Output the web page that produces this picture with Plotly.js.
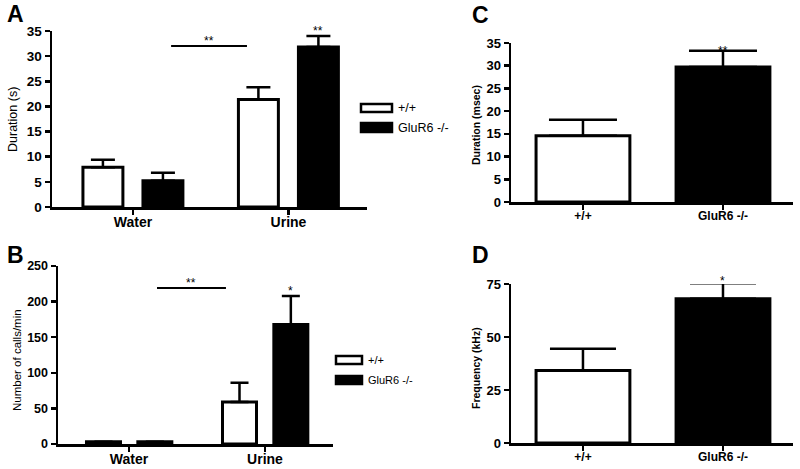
<!DOCTYPE html>
<html>
<head>
<meta charset="utf-8">
<script src="https://cdn.plot.ly/plotly-3.0.1.min.js"></script>
<style>
  html, body { margin: 0; padding: 0; background: #fff; }
  #chart { width: 800px; height: 469px; }
</style>
</head>
<body>
<div id="chart"></div>
<script>
// data
const groupNames = ['+/+', 'GluR6 -/-'];
const stimuli = ['Water', 'Urine'];

// A: duration (s)
const durWT = [7.9, 21.4];
const durWTerr = [1.5, 2.4];
const durKO = [5.2, 31.8];
const durKOerr = [1.6, 2.2];

// B: number of calls/min
const callsWT = [3, 59];
const callsWTerr = [0, 27];
const callsKO = [3, 168];
const callsKOerr = [0, 40];

// C: call duration (msec)
const callDur = [14.6, 29.7];
const callDurErr = [3.5, 3.6];

// D: frequency (kHz)
const freq = [34.2, 68];
const freqErr = [10.2, 7.4];

const FONT = 'Liberation Sans, Arial, sans-serif';
const W = 800, H = 469;
// convert pixel positions of the picture to paper coords
const px = x => x / W;
const py = y => 1 - y / H;

function barTrace(x, y, err, color, xa, ya, width, offset, capw) {
    return {
        type: 'bar', x: x, y: y,
        xaxis: xa, yaxis: ya,
        width: width, offset: offset,
        marker: { color: color, line: { color: 'black', width: 3 } },
        error_y: {
            type: 'data', symmetric: false, array: err,
            arrayminus: err.map(() => 0),
            color: 'black', thickness: 2.5, width: capw
        },
        hoverinfo: 'none'
    };
}

const traces = [
    barTrace(stimuli, durWT, durWTerr, 'white', 'x', 'y', 0.257, -0.322, 12),
    barTrace(stimuli, durKO, durKOerr, 'black', 'x', 'y', 0.257, 0.064, 12),
    barTrace(stimuli, callsWT, callsWTerr, 'white', 'x2', 'y2', 0.25, -0.3125, 9),
    barTrace(stimuli, callsKO, callsKOerr, 'black', 'x2', 'y2', 0.25, 0.065, 9),
    barTrace(groupNames, callDur, callDurErr, ['white', 'black'], 'x3', 'y3', 0.67, -0.335, 34),
    barTrace(groupNames, freq, freqErr, ['white', 'black'], 'x4', 'y4', 0.67, -0.335, 33)
];

function yAxis(domain, range, dtick, anchor, size) {
    return {
        domain: domain, range: range, dtick: dtick, anchor: anchor,
        showline: true, linewidth: 2.5, linecolor: 'black',
        ticks: 'outside', ticklen: 5, tickwidth: 2.5, tickcolor: 'black',
        showgrid: false, zeroline: false, fixedrange: true,
        tickfont: { family: FONT, size: size, color: 'black', weight: 700 }
    };
}
function xAxis(domain, range, anchor, size) {
    return {
        domain: domain, range: range, anchor: anchor, type: 'category',
        showline: true, linewidth: 2.5, linecolor: 'black',
        ticks: 'outside', ticklen: 5, tickwidth: 2.5, tickcolor: 'black',
        ticklabelstandoff: -4,
        showgrid: false, zeroline: false, fixedrange: true,
        tickfont: { family: FONT, size: size, color: 'black', weight: 700 }
    };
}

const annotations = [];
const shapes = [];
function label(text, x, y, size, bold, opts) {
    annotations.push(Object.assign({
        text: text, x: px(x), y: py(y), xref: 'paper', yref: 'paper',
        xanchor: 'center', yanchor: 'middle',
        showarrow: false, font: { family: FONT, size: size, color: 'black', weight: bold ? 700 : 400 }
    }, opts || {}));
}

// panel letters
label('A', 15, 14, 23, true);
label('B', 15, 255, 23, true);
label('C', 481, 15, 23, true);
label('D', 481, 255, 23, true);

// y axis titles
label('Duration (s)', 13, 120, 12.5, false, { textangle: -90 });
label('Number of calls/min', 17, 360, 11.5, false, { textangle: -90 });
label('Duration (msec)', 476, 125, 10.5, true, { textangle: -90 });
label('Frequency (kHz)', 476, 368, 10.5, true, { textangle: -90 });

// hand-drawn legends
function legend(x0, x1, rows, size) {
    rows.forEach((r, i) => {
        shapes.push({
            type: 'rect', xref: 'paper', yref: 'paper',
            x0: px(x0), x1: px(x1), y0: py(r[0]), y1: py(r[1]),
            fillcolor: i === 0 ? 'white' : 'black',
            line: { color: 'black', width: 2.5 }
        });
        label(groupNames[i], x1 + 4, (r[0] + r[1]) / 2, size, false, { xanchor: 'left' });
    });
}
legend(361, 392, [[104, 112], [123, 132]], 12.5);
legend(336, 362, [[356, 364], [376, 384]], 11);

// significance marks
function sig(xa, ya, x0, x1, y, stars, line) {
    if (line) {
        shapes.push({ type: 'line', xref: xa, yref: ya, x0: x0, x1: x1, y0: y, y1: y,
            line: { color: 'black', width: 2 } });
    }
    annotations.push({ text: stars, xref: xa, yref: ya, x: (x0 + x1) / 2, y: y,
        xanchor: 'center', yanchor: 'bottom', yshift: -4, showarrow: false,
        font: { family: FONT, size: 12, color: 'black' } });
}
sig('x', 'y', 0.245, 0.733, 32, '**', true);
sig('x', 'y', 1.193, 1.193, 34, '**', false);
sig('x2', 'y2', 0.206, 0.713, 219, '**', true);
sig('x2', 'y2', 1.19, 1.19, 208, '*', false);
sig('x3', 'y3', 1, 1, 32.2, '**', false);
sig('x4', 'y4', 1, 1, 74, '*', false);

const layout = {
    width: W, height: H,
    margin: { l: 0, r: 0, t: 0, b: 0 },
    paper_bgcolor: 'white', plot_bgcolor: 'white',
    showlegend: false, barmode: 'overlay',
    font: { family: FONT, color: 'black' },
    xaxis: xAxis([px(52), px(367)], [-0.521, 1.505], 'y', 14),
    yaxis: yAxis([py(207), py(31)], [0, 35], 5, 'x', 13.5),
    xaxis2: xAxis([px(58), px(333)], [-0.522, 1.5], 'y2', 14),
    yaxis2: yAxis([py(444), py(266)], [0, 250], 50, 'x2', 12.5),
    xaxis3: xAxis([px(511), px(793)], [-0.514, 1.5], 'y3', 12),
    yaxis3: yAxis([py(202), py(43)], [0, 35], 5, 'x3', 13),
    xaxis4: xAxis([px(511), px(793)], [-0.514, 1.5], 'y4', 12),
    yaxis4: yAxis([py(443), py(284)], [0, 75], 25, 'x4', 13),
    annotations: annotations,
    shapes: shapes
};

Plotly.newPlot('chart', traces, layout, { displayModeBar: false, staticPlot: true });
</script>
</body>
</html>
